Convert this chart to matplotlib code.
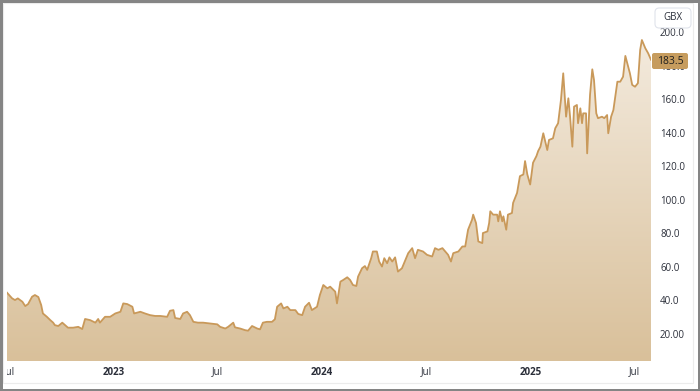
import matplotlib
matplotlib.use('Agg')
import matplotlib.pyplot as plt
import matplotlib.dates as mdates
import numpy as np
import pandas as pd
from matplotlib.patches import Rectangle, FancyBboxPatch
from matplotlib.colors import LinearSegmentedColormap
from matplotlib.transforms import Bbox

dates = [
    '2022-06-27', '2022-07-06', '2022-07-11', '2022-07-16', '2022-07-24', '2022-07-29', '2022-08-03',
    '2022-08-10', '2022-08-15', '2022-08-21', '2022-08-26', '2022-08-29', '2022-09-05', '2022-09-11',
    '2022-09-16', '2022-09-19', '2022-09-25', '2022-10-02', '2022-10-07', '2022-10-12', '2022-10-21',
    '2022-10-30', '2022-11-06', '2022-11-11', '2022-11-20', '2022-11-29', '2022-12-04', '2022-12-07',
    '2022-12-16', '2022-12-25', '2023-01-03', '2023-01-12', '2023-01-17', '2023-01-24', '2023-02-02',
    '2023-02-05', '2023-02-16', '2023-02-24', '2023-03-05', '2023-03-14', '2023-03-23', '2023-04-04',
    '2023-04-09', '2023-04-15', '2023-04-18', '2023-04-27', '2023-05-02', '2023-05-09', '2023-05-14',
    '2023-05-20', '2023-05-28', '2023-06-06', '2023-06-18', '2023-07-01', '2023-07-06', '2023-07-15',
    '2023-07-20', '2023-07-29', '2023-08-01', '2023-08-10', '2023-08-19', '2023-08-24', '2023-08-31',
    '2023-09-09', '2023-09-14', '2023-09-19', '2023-09-26', '2023-10-05', '2023-10-10', '2023-10-14',
    '2023-10-21', '2023-10-25', '2023-11-01', '2023-11-06', '2023-11-15', '2023-11-20', '2023-11-27',
    '2023-12-02', '2023-12-09', '2023-12-14', '2023-12-23', '2023-12-28', '2024-01-03', '2024-01-10',
    '2024-01-15', '2024-01-24', '2024-01-27', '2024-02-02', '2024-02-07', '2024-02-14', '2024-02-19',
    '2024-02-24', '2024-03-01', '2024-03-04', '2024-03-11', '2024-03-16', '2024-03-20', '2024-03-27',
    '2024-03-30', '2024-04-06', '2024-04-10', '2024-04-15', '2024-04-19', '2024-04-24', '2024-04-28',
    '2024-05-03', '2024-05-08', '2024-05-13', '2024-05-20', '2024-05-26', '2024-05-31', '2024-06-07',
    '2024-06-12', '2024-06-17', '2024-06-26', '2024-07-03', '2024-07-12', '2024-07-17', '2024-07-23',
    '2024-07-30', '2024-08-04', '2024-08-09', '2024-08-14', '2024-08-18', '2024-08-27', '2024-09-03',
    '2024-09-08', '2024-09-13', '2024-09-20', '2024-09-22', '2024-09-27', '2024-10-01', '2024-10-08',
    '2024-10-09', '2024-10-17', '2024-10-20', '2024-10-22', '2024-10-27', '2024-11-03', '2024-11-05',
    '2024-11-08', '2024-11-12', '2024-11-14', '2024-11-19', '2024-11-22', '2024-11-29', '2024-12-01',
    '2024-12-08', '2024-12-13', '2024-12-19', '2024-12-22', '2024-12-26', '2024-12-31', '2025-01-05',
    '2025-01-11', '2025-01-14', '2025-01-18', '2025-01-23', '2025-01-30', '2025-02-02', '2025-02-09',
    '2025-02-13', '2025-02-18', '2025-02-23', '2025-02-27', '2025-03-04', '2025-03-08', '2025-03-11',
    '2025-03-15', '2025-03-18', '2025-03-23', '2025-03-25', '2025-03-29', '2025-04-01', '2025-04-03',
    '2025-04-08', '2025-04-10', '2025-04-15', '2025-04-19', '2025-04-22', '2025-04-26', '2025-04-29',
    '2025-05-06', '2025-05-10', '2025-05-15', '2025-05-17', '2025-05-22', '2025-05-26', '2025-06-02',
    '2025-06-07', '2025-06-12', '2025-06-16', '2025-06-21', '2025-06-24', '2025-06-28', '2025-07-03',
    '2025-07-08', '2025-07-12', '2025-07-15', '2025-07-21', '2025-07-26', '2025-07-31',
]
prices = [
    44.4, 41, 40, 41, 39, 36.4, 37.6,
    42, 43, 41.8, 37, 32, 30, 28,
    26.5, 25, 24.5, 26.5, 25, 23.5, 23.5,
    24, 22.7, 28.7, 28, 26.5, 28.7, 26.5,
    30, 30, 32, 33, 38, 37.6, 36,
    32, 33, 32, 31, 30.5, 30.5, 30,
    33.6, 34, 29.3, 28.7, 32, 33, 31,
    27, 26.5, 26.5, 26, 25.5, 24, 23,
    24, 26.5, 23.7, 23, 22, 21.7, 24.5,
    23, 22.5, 26.5, 27, 27, 28.5, 36,
    38, 35, 36, 34, 34, 31.7, 31,
    36, 38.4, 34, 36, 43, 49, 47,
    48, 45, 38, 51, 52, 53.6, 52,
    49, 48.4, 54, 59, 60.3, 58, 65,
    69, 69, 63, 60, 65, 62, 65.5,
    63, 65.5, 57, 59, 64, 68, 71,
    65, 70, 69, 67, 66, 71, 70,
    71, 69, 67, 63, 68, 69, 72,
    72, 82, 88, 91, 86, 75, 74,
    80, 81, 86, 93, 91, 91, 87,
    93, 87, 90, 82, 91, 92, 98,
    104, 114, 115, 123, 115, 109, 122,
    126, 129, 131.6, 139.6, 129.6, 135.6, 136.6,
    142.6, 145.6, 159.5, 175.4, 149.5, 160.5, 149.5,
    131.6, 155.5, 156.5, 145.6, 154.5, 145.6, 151.5,
    151.5, 127.6, 162.5, 177.8, 171.4, 151.5, 148.6,
    149.5, 148.6, 150.5, 139.6, 149.5, 153.5, 170.4,
    170.4, 173.4, 185.8, 179.4, 175.4, 168.5, 167.4,
    169.5, 189.4, 195.3, 190.4, 187.4, 183.5,
]

x_tick_dates = ['2022-07-01', '2023-01-01', '2023-07-01', '2024-01-01',
                '2024-07-01', '2025-01-01', '2025-07-01']
x_tick_labels = ['Jul', '2023', 'Jul', '2024', 'Jul', '2025', 'Jul']
y_ticks = [20, 40, 60, 80, 100, 120, 140, 160, 180, 200]
y_tick_labels = ['20.00', '40.0', '60.0', '80.0', '100.0', '120.0',
                 '140.0', '160.0', '180.0', '200.0']
currency = 'GBX'
last_price_label = '183.5'

plt.rcParams['font.family'] = ['Open Sans', 'DejaVu Sans']

W, H = 700, 391
fig = plt.figure(figsize=(W / 100, H / 100), dpi=100)
fig.patch.set_facecolor('white')


def fx(px):
    return px / W


def fy(py):
    return 1 - py / H


ax = fig.add_axes([fx(7), fy(361), fx(651) - fx(7), fy(3) - fy(361)])
ax.set_facecolor('white')

dt = pd.to_datetime(dates)
xn = mdates.date2num(dt)
ymin, ymax = 3.6, 217.4

poly = ax.fill_between(dt, prices, 0, facecolor='none', edgecolor='none', lw=0)
grad = np.linspace(0, 1, 256).reshape(-1, 1)
cmap = LinearSegmentedColormap.from_list('g', ['#d9c09a', '#f6efe5'])
im = ax.imshow(grad, extent=[xn[0], xn[-1], ymin, ymax], origin='lower',
               aspect='auto', cmap=cmap, zorder=1, interpolation='bilinear')
im.set_clip_path(poly.get_paths()[0], transform=ax.transData)

ax.plot(dt, prices, color='#c9995a', lw=1.3, zorder=2, solid_joinstyle='round')

ax.set_xlim(xn[0], xn[-1])
ax.set_ylim(ymin, ymax)
for s in ax.spines.values():
    s.set_visible(False)

ax.set_xticks(mdates.date2num(pd.to_datetime(x_tick_dates)))
ax.set_xticklabels(x_tick_labels)
ax.tick_params(axis='x', length=0, pad=4, labelsize=7, colors='#2a2e39')
clip_bb = Bbox.from_extents(7, 0, W, H)
for lab in ax.get_xticklabels():
    if lab.get_text().isdigit():
        lab.set_fontweight('bold')
    lab.set_clip_box(clip_bb)
    lab.set_clip_on(True)

ax.yaxis.tick_right()
ax.set_yticks(y_ticks)
ax.set_yticklabels(y_tick_labels)
ax.tick_params(axis='y', length=0, pad=6.5, labelsize=7, colors='#2a2e39')
for lab in ax.get_yticklabels():
    lab.set_horizontalalignment('left')

# last price tag
tag = FancyBboxPatch((fx(652), fy(69)), fx(688) - fx(652), fy(53) - fy(69),
                     boxstyle='round,pad=0,rounding_size=0.003',
                     mutation_aspect=W / H, transform=fig.transFigure,
                     fc='#c69c5e', ec='none', zorder=6)
fig.patches.append(tag)
fig.text(fx(670), fy(61), last_price_label, ha='center', va='center',
         fontsize=7.5, color='#1e1e1e', zorder=7)

# currency box
box = FancyBboxPatch((fx(655), fy(28)), fx(691) - fx(655), fy(8) - fy(28),
                     boxstyle='round,pad=0,rounding_size=0.006',
                     mutation_aspect=W / H, transform=fig.transFigure,
                     fc='white', ec='#e0e3eb', lw=0.8, zorder=6)
fig.patches.append(box)
fig.text(fx(673), fy(18), currency, ha='center', va='center',
         fontsize=7, color='#2a2e39', zorder=7)

# card and outer frame
fig.patches.append(Rectangle((fx(3), fy(383)), fx(693) - fx(3), fy(3) - fy(383),
                             transform=fig.transFigure, fill=False,
                             ec='#ececec', lw=0.8, zorder=4))
fig.patches.append(Rectangle((0, 0), 1, 1, transform=fig.transFigure, fill=False,
                             ec='#858585', lw=3.6, zorder=8))

fig.savefig('out.png', dpi=100, facecolor='white')
